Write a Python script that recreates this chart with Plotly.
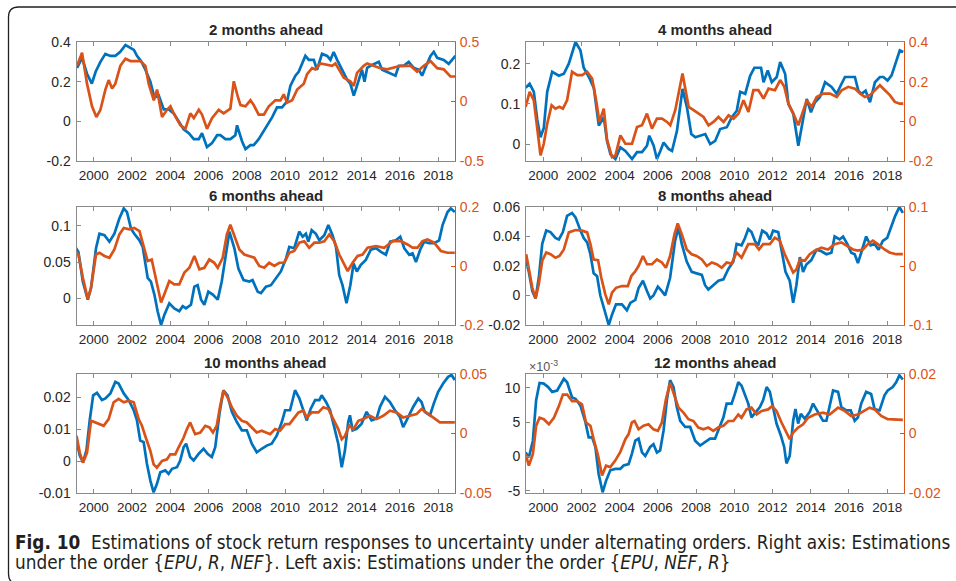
import plotly.graph_objects as go

BLUE = "#0072BD"
ORANGE = "#D95319"
AXIS_GRAY = "#8a8a8a"
TEXT = "#262626"

YEARS = [2000, 2002, 2004, 2006, 2008, 2010, 2012, 2014, 2016, 2018]
X_RANGE = [1999.1, 2018.88]

# (year, value); left axis = order {EPU, NEF, R}, right axis = order {EPU, R, NEF}
LEFT_2M = [
    (1999.13, 0.27), (1999.39, 0.32), (1999.65, 0.24), (1999.90, 0.19), (2000.10, 0.25), (2000.35, 0.30),
    (2000.61, 0.34), (2000.87, 0.33), (2001.13, 0.33), (2001.39, 0.35), (2001.66, 0.385), (2001.92, 0.37),
    (2002.10, 0.36), (2002.26, 0.33), (2002.50, 0.30), (2002.70, 0.26), (2002.96, 0.20), (2003.17, 0.12),
    (2003.40, 0.13), (2003.66, 0.06), (2003.92, 0.06), (2004.18, 0.04), (2004.44, 0.00), (2004.70, -0.04),
    (2004.97, -0.06), (2005.23, -0.09), (2005.49, -0.09), (2005.66, -0.06), (2005.92, -0.13), (2006.18, -0.11),
    (2006.45, -0.07), (2006.62, -0.07), (2006.88, -0.09), (2007.14, -0.09), (2007.40, -0.07), (2007.49, -0.02),
    (2007.75, -0.10), (2007.93, -0.14), (2008.19, -0.12), (2008.36, -0.12), (2008.62, -0.09), (2008.89, -0.05),
    (2009.06, -0.02), (2009.32, 0.02), (2009.58, 0.07), (2009.84, 0.07), (2010.10, 0.10), (2010.28, 0.18),
    (2010.54, 0.23), (2010.71, 0.25), (2011.06, 0.33), (2011.24, 0.31), (2011.50, 0.31), (2011.67, 0.26),
    (2011.93, 0.34), (2012.20, 0.33), (2012.37, 0.31), (2012.54, 0.35), (2012.72, 0.31), (2012.98, 0.26),
    (2013.24, 0.21), (2013.41, 0.19), (2013.59, 0.13), (2013.76, 0.18), (2013.94, 0.24), (2014.02, 0.26),
    (2014.15, 0.20), (2014.29, 0.27), (2014.46, 0.28), (2014.72, 0.29), (2014.90, 0.30), (2015.07, 0.26),
    (2015.33, 0.25), (2015.59, 0.24), (2015.77, 0.23), (2015.94, 0.28), (2016.20, 0.28), (2016.46, 0.30),
    (2016.72, 0.27), (2016.99, 0.26), (2017.16, 0.23), (2017.33, 0.27), (2017.60, 0.33), (2017.77, 0.35),
    (2017.95, 0.32), (2018.29, 0.31), (2018.55, 0.29), (2018.90, 0.33),
]
RIGHT_2M = [
    (1999.13, 0.30), (1999.39, 0.41), (1999.65, 0.15), (1999.91, -0.04), (2000.14, -0.13), (2000.35, -0.07),
    (2000.61, 0.10), (2000.78, 0.18), (2000.96, 0.11), (2001.13, 0.15), (2001.39, 0.30), (2001.66, 0.36),
    (2001.92, 0.34), (2002.44, 0.34), (2002.70, 0.30), (2002.87, 0.15), (2003.14, 0.01), (2003.31, 0.10),
    (2003.57, -0.13), (2003.83, -0.07), (2004.01, -0.04), (2004.18, -0.10), (2004.53, -0.20), (2004.79, -0.23),
    (2005.05, -0.10), (2005.23, -0.14), (2005.49, -0.07), (2005.66, -0.11), (2005.92, -0.23), (2006.18, -0.14),
    (2006.53, -0.07), (2006.79, -0.10), (2007.14, -0.06), (2007.32, 0.17), (2007.53, 0.04), (2007.67, -0.03),
    (2007.93, -0.04), (2008.19, 0.01), (2008.36, -0.03), (2008.62, -0.11), (2008.89, -0.11), (2009.15, -0.04),
    (2009.49, 0.01), (2009.76, 0.01), (2009.93, 0.06), (2010.10, -0.01), (2010.37, 0.01), (2010.63, 0.10),
    (2010.98, 0.15), (2011.15, 0.23), (2011.41, 0.28), (2011.59, 0.27), (2011.85, 0.32), (2012.20, 0.31),
    (2012.46, 0.30), (2012.63, 0.32), (2012.89, 0.25), (2013.07, 0.20), (2013.41, 0.17), (2013.59, 0.13),
    (2013.76, 0.24), (2014.11, 0.30), (2014.29, 0.32), (2014.63, 0.30), (2014.98, 0.28), (2015.33, 0.27),
    (2015.59, 0.28), (2016.03, 0.30), (2016.55, 0.30), (2016.90, 0.25), (2017.25, 0.30), (2017.60, 0.34),
    (2017.95, 0.28), (2018.29, 0.27), (2018.64, 0.21), (2018.90, 0.21),
]

LEFT_4M = [
    (1999.08, 0.14), (1999.29, 0.15), (1999.51, 0.13), (1999.69, 0.06), (1999.86, 0.017), (2000.03, 0.04),
    (2000.21, 0.13), (2000.47, 0.18), (2000.82, 0.17), (2001.08, 0.175), (2001.34, 0.20), (2001.51, 0.225),
    (2001.69, 0.254), (2001.95, 0.233), (2002.12, 0.19), (2002.39, 0.167), (2002.65, 0.14), (2002.91, 0.046),
    (2003.17, 0.067), (2003.34, 0.008), (2003.52, -0.025), (2003.78, -0.037), (2004.04, -0.008), (2004.30, -0.017),
    (2004.65, -0.037), (2004.91, -0.02), (2005.17, -0.02), (2005.43, -0.004), (2005.55, 0.021), (2005.78, -0.004),
    (2005.95, -0.037), (2006.13, -0.017), (2006.30, 0.004), (2006.56, -0.012), (2006.74, -0.017), (2007.00, 0.033),
    (2007.29, 0.1375), (2007.52, 0.092), (2007.75, 0.025), (2007.96, 0.017), (2008.22, 0.021), (2008.48, 0.025),
    (2008.74, 0.0), (2009.00, 0.008), (2009.26, 0.0375), (2009.61, 0.042), (2009.87, 0.067), (2010.13, 0.083),
    (2010.31, 0.13), (2010.57, 0.125), (2010.83, 0.17), (2011.05, 0.19), (2011.26, 0.19), (2011.40, 0.19),
    (2011.53, 0.154), (2011.75, 0.183), (2011.96, 0.154), (2012.22, 0.167), (2012.40, 0.204), (2012.66, 0.175),
    (2012.83, 0.10), (2013.09, 0.075), (2013.35, -0.004), (2013.61, 0.067), (2013.79, 0.1125), (2014.01, 0.079),
    (2014.22, 0.104), (2014.48, 0.117), (2014.75, 0.154), (2015.09, 0.142), (2015.36, 0.125), (2015.53, 0.142),
    (2015.79, 0.167), (2016.05, 0.167), (2016.31, 0.167), (2016.49, 0.133), (2016.66, 0.125), (2016.87, 0.133),
    (2017.10, 0.104), (2017.36, 0.154), (2017.62, 0.167), (2017.80, 0.167), (2018.02, 0.158), (2018.23, 0.171),
    (2018.40, 0.196), (2018.66, 0.233), (2018.84, 0.229),
]
RIGHT_4M = [
    (1999.08, 0.073), (1999.29, 0.149), (1999.51, 0.106), (1999.69, -0.029), (1999.86, -0.172), (2000.03, -0.113),
    (2000.21, -0.012), (2000.44, 0.081), (2000.64, 0.064), (2000.85, 0.073), (2001.03, 0.064), (2001.25, 0.106),
    (2001.51, 0.25), (2001.78, 0.233), (2002.04, 0.233), (2002.30, 0.25), (2002.56, 0.216), (2002.77, 0.106),
    (2002.94, -0.003), (2003.17, 0.064), (2003.34, -0.093), (2003.60, -0.18), (2003.78, -0.172), (2004.04, -0.071),
    (2004.30, -0.113), (2004.65, -0.113), (2004.91, -0.029), (2005.17, -0.02), (2005.43, 0.039), (2005.69, -0.037),
    (2005.95, 0.0135), (2006.22, 0.0135), (2006.48, -0.003), (2006.65, -0.02), (2006.91, 0.056), (2007.29, 0.241),
    (2007.61, 0.073), (2007.87, 0.056), (2008.13, 0.039), (2008.39, 0.022), (2008.65, -0.02), (2008.91, -0.003),
    (2009.17, 0.022), (2009.44, -0.003), (2009.70, 0.030), (2009.96, 0.0135), (2010.22, 0.039), (2010.48, 0.106),
    (2010.74, 0.047), (2011.00, 0.157), (2011.26, 0.157), (2011.53, 0.115), (2011.79, 0.165), (2012.13, 0.157),
    (2012.40, 0.208), (2012.62, 0.174), (2012.83, 0.089), (2013.09, 0.039), (2013.35, -0.02), (2013.61, 0.056),
    (2013.79, 0.106), (2014.05, 0.073), (2014.31, 0.123), (2014.66, 0.14), (2015.01, 0.14), (2015.36, 0.123),
    (2015.62, 0.157), (2015.96, 0.174), (2016.31, 0.165), (2016.57, 0.14), (2016.83, 0.123), (2017.10, 0.132),
    (2017.36, 0.157), (2017.62, 0.182), (2017.88, 0.157), (2018.14, 0.132), (2018.40, 0.098), (2018.66, 0.089),
    (2018.84, 0.089),
]

LEFT_6M = [
    (1999.03, 0.071), (1999.20, 0.064), (1999.43, 0.023), (1999.69, -0.002), (1999.86, 0.014), (2000.12, 0.069),
    (2000.30, 0.089), (2000.56, 0.087), (2000.82, 0.078), (2001.08, 0.089), (2001.34, 0.110), (2001.57, 0.124),
    (2001.74, 0.119), (2001.95, 0.096), (2002.12, 0.089), (2002.39, 0.080), (2002.56, 0.071), (2002.82, 0.028),
    (2002.99, 0.023), (2003.17, 0.005), (2003.34, -0.018), (2003.52, -0.037), (2003.69, -0.023), (2003.95, -0.007),
    (2004.21, -0.014), (2004.47, -0.018), (2004.65, -0.011), (2004.82, -0.014), (2005.08, -0.009), (2005.26, 0.016),
    (2005.43, 0.018), (2005.61, -0.002), (2005.78, -0.009), (2005.99, 0.009), (2006.22, 0.005), (2006.48, -0.002),
    (2006.69, 0.023), (2006.91, 0.064), (2007.09, 0.092), (2007.35, 0.069), (2007.56, 0.041), (2007.83, 0.025),
    (2008.13, 0.023), (2008.30, 0.025), (2008.57, 0.009), (2008.74, 0.007), (2009.00, 0.016), (2009.26, 0.018),
    (2009.52, 0.028), (2009.78, 0.037), (2010.05, 0.055), (2010.22, 0.071), (2010.48, 0.069), (2010.74, 0.092),
    (2010.92, 0.085), (2011.09, 0.089), (2011.21, 0.078), (2011.39, 0.094), (2011.61, 0.089), (2011.79, 0.080),
    (2012.05, 0.087), (2012.26, 0.101), (2012.48, 0.087), (2012.66, 0.071), (2012.83, 0.032), (2013.00, 0.018),
    (2013.21, -0.007), (2013.41, 0.018), (2013.58, 0.048), (2013.75, 0.037), (2013.96, 0.046), (2014.22, 0.053),
    (2014.48, 0.067), (2014.75, 0.069), (2015.01, 0.064), (2015.27, 0.060), (2015.49, 0.078), (2015.79, 0.080),
    (2016.02, 0.085), (2016.23, 0.069), (2016.49, 0.060), (2016.66, 0.062), (2016.84, 0.050), (2017.06, 0.067),
    (2017.27, 0.078), (2017.53, 0.076), (2017.79, 0.076), (2018.05, 0.080), (2018.23, 0.101), (2018.49, 0.119),
    (2018.66, 0.124), (2018.87, 0.119),
]
RIGHT_6M = [
    (1999.03, 0.051), (1999.20, 0.039), (1999.43, -0.039), (1999.69, -0.112), (1999.86, -0.073), (2000.12, 0.039),
    (2000.30, 0.045), (2000.56, 0.034), (2000.82, 0.028), (2001.08, 0.056), (2001.34, 0.107), (2001.57, 0.129),
    (2001.86, 0.124), (2002.12, 0.129), (2002.39, 0.118), (2002.65, 0.051), (2002.82, 0.017), (2003.03, 0.022),
    (2003.20, -0.028), (2003.34, -0.073), (2003.52, -0.124), (2003.69, -0.096), (2003.95, -0.051), (2004.21, -0.062),
    (2004.47, -0.062), (2004.74, -0.022), (2005.00, -0.006), (2005.26, 0.034), (2005.52, -0.011), (2005.78, -0.006),
    (2006.04, 0.022), (2006.30, 0.011), (2006.48, -0.006), (2006.74, 0.028), (2006.96, 0.107), (2007.14, 0.140),
    (2007.35, 0.101), (2007.61, 0.056), (2007.87, 0.039), (2008.13, 0.034), (2008.39, 0.028), (2008.65, 0.0),
    (2008.91, -0.006), (2009.17, 0.011), (2009.44, 0.0), (2009.70, 0.011), (2009.96, 0.011), (2010.22, 0.045),
    (2010.48, 0.051), (2010.74, 0.079), (2011.00, 0.084), (2011.26, 0.062), (2011.53, 0.079), (2011.79, 0.079),
    (2012.05, 0.084), (2012.31, 0.107), (2012.57, 0.084), (2012.83, 0.039), (2013.09, 0.006), (2013.27, -0.017),
    (2013.53, 0.011), (2013.79, 0.034), (2014.05, 0.039), (2014.31, 0.062), (2014.75, 0.067), (2015.18, 0.062),
    (2015.62, 0.084), (2016.05, 0.084), (2016.40, 0.073), (2016.66, 0.062), (2016.92, 0.062), (2017.18, 0.084),
    (2017.44, 0.090), (2017.79, 0.079), (2018.14, 0.051), (2018.49, 0.045), (2018.87, 0.045),
]

LEFT_8M = [
    (1999.11, 0.023), (1999.25, 0.016), (1999.43, 0.003), (1999.60, -0.002), (1999.77, 0.012), (1999.95, 0.035),
    (2000.16, 0.044), (2000.38, 0.043), (2000.64, 0.039), (2000.82, 0.038), (2001.03, 0.043), (2001.25, 0.054),
    (2001.51, 0.056), (2001.69, 0.053), (2001.95, 0.044), (2002.12, 0.039), (2002.30, 0.036), (2002.47, 0.028),
    (2002.64, 0.015), (2002.82, 0.013), (2002.99, 0.0), (2003.25, -0.013), (2003.43, -0.020), (2003.60, -0.013),
    (2003.81, -0.006), (2004.12, -0.006), (2004.38, -0.010), (2004.56, -0.005), (2004.82, -0.003), (2004.99, 0.005),
    (2005.22, 0.010), (2005.43, 0.003), (2005.60, -0.002), (2005.77, 0.0), (2006.00, 0.006), (2006.21, 0.003),
    (2006.38, 0.0), (2006.64, 0.012), (2006.90, 0.037), (2007.08, 0.046), (2007.25, 0.035), (2007.51, 0.023),
    (2007.77, 0.016), (2008.03, 0.015), (2008.30, 0.014), (2008.47, 0.007), (2008.64, 0.004), (2008.90, 0.007),
    (2009.17, 0.010), (2009.43, 0.011), (2009.69, 0.018), (2009.95, 0.023), (2010.12, 0.035), (2010.38, 0.034),
    (2010.56, 0.039), (2010.73, 0.045), (2010.90, 0.043), (2011.08, 0.037), (2011.25, 0.034), (2011.46, 0.044),
    (2011.69, 0.042), (2011.86, 0.038), (2012.03, 0.044), (2012.30, 0.043), (2012.50, 0.030), (2012.68, 0.016),
    (2012.90, 0.010), (2013.08, -0.005), (2013.25, 0.007), (2013.43, 0.026), (2013.60, 0.016), (2013.77, 0.021),
    (2014.03, 0.024), (2014.30, 0.031), (2014.56, 0.030), (2014.82, 0.028), (2015.08, 0.029), (2015.25, 0.040),
    (2015.51, 0.038), (2015.69, 0.040), (2015.91, 0.035), (2016.12, 0.029), (2016.30, 0.028), (2016.47, 0.022),
    (2016.64, 0.029), (2016.90, 0.040), (2017.13, 0.034), (2017.34, 0.035), (2017.55, 0.031), (2017.77, 0.037),
    (2018.00, 0.039), (2018.21, 0.047), (2018.42, 0.054), (2018.64, 0.060), (2018.82, 0.056),
]
RIGHT_8M = [
    (1999.11, 0.020), (1999.25, -0.003), (1999.43, -0.037), (1999.60, -0.055), (1999.77, -0.031), (1999.95, 0.009),
    (2000.16, 0.023), (2000.38, 0.020), (2000.64, 0.014), (2000.85, 0.017), (2001.08, 0.028), (2001.34, 0.057),
    (2001.69, 0.061), (2002.03, 0.060), (2002.30, 0.057), (2002.47, 0.037), (2002.64, 0.011), (2002.87, 0.010),
    (2003.04, -0.020), (2003.25, -0.048), (2003.43, -0.065), (2003.60, -0.045), (2003.81, -0.037), (2004.12, -0.034),
    (2004.43, -0.034), (2004.61, -0.017), (2004.82, -0.009), (2004.99, 0.0), (2005.22, 0.017), (2005.43, 0.003),
    (2005.69, 0.003), (2005.95, 0.011), (2006.21, 0.006), (2006.42, -0.003), (2006.64, 0.017), (2006.87, 0.054),
    (2007.04, 0.072), (2007.25, 0.054), (2007.51, 0.028), (2007.77, 0.020), (2008.03, 0.017), (2008.30, 0.011),
    (2008.56, 0.0), (2008.82, 0.006), (2009.08, 0.003), (2009.34, -0.003), (2009.60, 0.006), (2009.86, 0.004),
    (2010.12, 0.023), (2010.38, 0.014), (2010.73, 0.037), (2011.08, 0.037), (2011.29, 0.028), (2011.51, 0.037),
    (2011.86, 0.037), (2012.12, 0.048), (2012.38, 0.043), (2012.64, 0.020), (2012.90, 0.003), (2013.08, -0.011),
    (2013.25, -0.006), (2013.43, 0.011), (2013.69, 0.009), (2013.95, 0.020), (2014.21, 0.026), (2014.56, 0.031),
    (2014.90, 0.028), (2015.25, 0.037), (2015.60, 0.040), (2015.91, 0.034), (2016.21, 0.028), (2016.47, 0.026),
    (2016.73, 0.028), (2016.99, 0.037), (2017.25, 0.043), (2017.51, 0.037), (2017.86, 0.028), (2018.12, 0.023),
    (2018.47, 0.020), (2018.82, 0.020),
]

LEFT_10M = [
    (1999.10, 0.0065), (1999.27, 0.0018), (1999.44, -0.0003), (1999.62, 0.0034), (1999.79, 0.0128), (1999.97, 0.0207),
    (2000.17, 0.0215), (2000.43, 0.0192), (2000.61, 0.0197), (2000.87, 0.0213), (2001.13, 0.0249), (2001.30, 0.0244),
    (2001.57, 0.0213), (2001.83, 0.0192), (2002.09, 0.0160), (2002.26, 0.0128), (2002.43, 0.0065), (2002.61, 0.0060),
    (2002.78, -0.0008), (2002.96, -0.0061), (2003.13, -0.0098), (2003.30, -0.0072), (2003.48, -0.0035), (2003.74, -0.0029),
    (2003.91, -0.0040), (2004.09, -0.0024), (2004.35, -0.0019), (2004.52, 0.0002), (2004.70, 0.0044), (2004.83, 0.0055),
    (2005.04, 0.0013), (2005.22, 0.0002), (2005.48, 0.0023), (2005.74, 0.0039), (2005.95, 0.0023), (2006.17, 0.0013),
    (2006.35, 0.0044), (2006.57, 0.0149), (2006.78, 0.0223), (2006.99, 0.0207), (2007.22, 0.0155), (2007.48, 0.0123),
    (2007.74, 0.0097), (2008.00, 0.0097), (2008.26, 0.0055), (2008.52, 0.0028), (2008.78, 0.0039), (2009.04, 0.0049),
    (2009.30, 0.0055), (2009.57, 0.0081), (2009.83, 0.0123), (2010.00, 0.0160), (2010.26, 0.0160), (2010.52, 0.0223),
    (2010.75, 0.0197), (2010.96, 0.0155), (2011.13, 0.0128), (2011.34, 0.0165), (2011.57, 0.0192), (2011.79, 0.0192),
    (2011.91, 0.0207), (2012.14, 0.0186), (2012.35, 0.0160), (2012.61, 0.0097), (2012.78, 0.0055), (2012.96, -0.0019),
    (2013.13, 0.0034), (2013.30, 0.0123), (2013.39, 0.0144), (2013.53, 0.0097), (2013.74, 0.0102), (2014.00, 0.0118),
    (2014.26, 0.0155), (2014.52, 0.0128), (2014.78, 0.0134), (2014.96, 0.0171), (2015.22, 0.0202), (2015.48, 0.0186),
    (2015.74, 0.0160), (2016.00, 0.0139), (2016.17, 0.0107), (2016.35, 0.0128), (2016.52, 0.0149), (2016.70, 0.0171),
    (2016.96, 0.0197), (2017.13, 0.0186), (2017.30, 0.0155), (2017.57, 0.0144), (2017.77, 0.0181), (2018.00, 0.0218),
    (2018.26, 0.0244), (2018.52, 0.0265), (2018.70, 0.0271), (2018.87, 0.0255),
]
RIGHT_10M = [
    (1999.10, -0.0020), (1999.27, -0.0160), (1999.44, -0.0245), (1999.65, -0.0160), (1999.86, 0.0107), (2000.09, 0.0093),
    (2000.35, 0.0079), (2000.52, 0.0065), (2000.78, 0.0121), (2001.04, 0.0262), (2001.30, 0.0290), (2001.57, 0.0262),
    (2001.83, 0.0276), (2002.09, 0.0262), (2002.35, 0.0121), (2002.52, 0.0065), (2002.75, -0.0048), (2002.96, -0.0146),
    (2003.13, -0.0259), (2003.30, -0.0287), (2003.57, -0.0231), (2003.83, -0.0217), (2004.00, -0.0175), (2004.26, -0.0175),
    (2004.43, -0.0118), (2004.70, -0.0034), (2004.87, 0.0037), (2005.04, 0.0093), (2005.30, -0.0006), (2005.57, 0.0008),
    (2005.83, 0.0065), (2006.05, 0.0051), (2006.23, 0.0008), (2006.43, 0.0065), (2006.61, 0.0234), (2006.78, 0.0360),
    (2006.99, 0.0304), (2007.22, 0.0220), (2007.48, 0.0149), (2007.74, 0.0107), (2008.00, 0.0093), (2008.26, 0.0051),
    (2008.52, 0.0008), (2008.78, 0.0023), (2009.04, 0.0008), (2009.22, -0.0006), (2009.48, 0.0037), (2009.74, 0.0023),
    (2010.00, 0.0079), (2010.23, 0.0079), (2010.43, 0.0121), (2010.70, 0.0177), (2010.96, 0.0192), (2011.13, 0.0135),
    (2011.39, 0.0177), (2011.74, 0.0177), (2012.00, 0.0220), (2012.26, 0.0206), (2012.52, 0.0121), (2012.78, 0.0037),
    (2012.96, -0.0048), (2013.13, -0.0020), (2013.36, 0.0065), (2013.57, 0.0037), (2013.83, 0.0107), (2014.09, 0.0121),
    (2014.43, 0.0149), (2014.78, 0.0121), (2015.13, 0.0149), (2015.48, 0.0192), (2015.83, 0.0177), (2016.17, 0.0135),
    (2016.52, 0.0149), (2016.87, 0.0163), (2017.13, 0.0206), (2017.48, 0.0163), (2017.83, 0.0121), (2018.09, 0.0093),
    (2018.43, 0.0093), (2018.87, 0.0093),
]

# left axis of the 12-month panel is in units of 1e-3, as printed on the axis
LEFT_12M = [
    (1999.08, 0.6), (1999.25, -0.1), (1999.46, 2.3), (1999.63, 8.2), (1999.81, 10.7), (2000.03, 10.6),
    (2000.26, 10.1), (2000.47, 9.4), (2000.73, 9.6), (2000.96, 10.6), (2001.08, 11.3), (2001.25, 10.8),
    (2001.51, 8.6), (2001.69, 8.4), (2001.95, 7.4), (2002.21, 5.0), (2002.38, 2.8), (2002.56, 2.8),
    (2002.73, 1.4), (2002.90, -2.5), (2003.11, -5.2), (2003.29, -3.5), (2003.51, -2.0), (2003.77, -1.8),
    (2004.03, -1.8), (2004.21, -1.3), (2004.47, -1.1), (2004.64, 0.4), (2004.82, 2.3), (2004.99, 2.6),
    (2005.17, 0.6), (2005.34, 0.1), (2005.60, 1.4), (2005.77, 1.8), (2005.95, 0.6), (2006.12, 0.9),
    (2006.30, 3.8), (2006.47, 8.2), (2006.64, 11.1), (2006.82, 10.1), (2006.99, 7.2), (2007.17, 5.2),
    (2007.43, 4.3), (2007.69, 4.3), (2007.95, 2.3), (2008.21, 1.6), (2008.47, 2.1), (2008.73, 2.6),
    (2008.99, 2.6), (2009.25, 4.3), (2009.43, 5.7), (2009.60, 7.7), (2009.86, 7.7), (2010.03, 9.1),
    (2010.21, 10.8), (2010.38, 10.3), (2010.56, 8.9), (2010.73, 7.7), (2010.90, 5.7), (2011.11, 6.5),
    (2011.34, 7.2), (2011.51, 8.2), (2011.69, 10.1), (2011.86, 9.4), (2012.03, 7.2), (2012.21, 4.8),
    (2012.43, 3.1), (2012.61, 1.4), (2012.73, -1.0), (2012.90, 0.1), (2013.08, 5.2), (2013.20, 6.9),
    (2013.34, 4.8), (2013.48, 6.2), (2013.69, 5.5), (2013.95, 6.5), (2014.12, 7.7), (2014.38, 6.5),
    (2014.64, 5.2), (2014.82, 5.2), (2014.99, 7.4), (2015.17, 9.6), (2015.43, 9.4), (2015.60, 7.2),
    (2015.86, 6.7), (2016.09, 6.7), (2016.30, 5.2), (2016.47, 5.7), (2016.64, 7.7), (2016.90, 9.4),
    (2017.16, 9.1), (2017.34, 6.9), (2017.60, 6.7), (2017.86, 8.9), (2018.03, 9.6), (2018.29, 10.1),
    (2018.47, 10.8), (2018.64, 11.8), (2018.82, 11.2),
]
RIGHT_12M = [
    (1999.08, -0.0069), (1999.25, -0.0108), (1999.46, -0.0069), (1999.63, 0.0026), (1999.81, 0.0053), (2000.03, 0.0048),
    (2000.30, 0.0031), (2000.56, 0.0053), (2000.82, 0.0092), (2001.03, 0.0131), (2001.25, 0.0131), (2001.51, 0.0109),
    (2001.77, 0.0109), (2002.03, 0.0098), (2002.24, 0.0037), (2002.47, 0.0026), (2002.64, -0.0019), (2002.87, -0.0074),
    (2003.08, -0.0141), (2003.29, -0.0108), (2003.51, -0.0113), (2003.77, -0.0091), (2004.03, -0.0063), (2004.30, -0.0019),
    (2004.47, -0.0002), (2004.64, 0.0037), (2004.78, 0.0042), (2004.99, 0.0014), (2005.25, 0.0026), (2005.51, 0.0031),
    (2005.77, 0.0014), (2006.00, 0.0009), (2006.21, 0.0037), (2006.42, 0.0114), (2006.64, 0.0170), (2006.87, 0.0126),
    (2007.08, 0.0087), (2007.34, 0.0070), (2007.60, 0.0048), (2007.86, 0.0042), (2008.12, 0.0020), (2008.38, 0.0014),
    (2008.64, 0.0020), (2008.90, 0.0009), (2009.16, 0.0020), (2009.43, 0.0026), (2009.69, 0.0042), (2009.95, 0.0042),
    (2010.21, 0.0064), (2010.38, 0.0053), (2010.64, 0.0081), (2010.90, 0.0087), (2011.17, 0.0064), (2011.43, 0.0076),
    (2011.77, 0.0081), (2011.98, 0.0092), (2012.21, 0.0076), (2012.47, 0.0037), (2012.73, 0.0003), (2012.90, -0.0019),
    (2013.08, 0.0003), (2013.34, 0.0020), (2013.60, 0.0031), (2013.86, 0.0053), (2014.21, 0.0064), (2014.64, 0.0070),
    (2014.99, 0.0064), (2015.43, 0.0087), (2015.77, 0.0076), (2016.12, 0.0059), (2016.47, 0.0064), (2016.82, 0.0076),
    (2017.08, 0.0087), (2017.34, 0.0081), (2017.69, 0.0059), (2018.03, 0.0048), (2018.38, 0.0048), (2018.82, 0.0046),
]

TITLES = ["2 months ahead", "4 months ahead", "6 months ahead", "8 months ahead", "10 months ahead", "12 months ahead"]
LEFT_SERIES = [LEFT_2M, LEFT_4M, LEFT_6M, LEFT_8M, LEFT_10M, LEFT_12M]
RIGHT_SERIES = [RIGHT_2M, RIGHT_4M, RIGHT_6M, RIGHT_8M, RIGHT_10M, RIGHT_12M]

LEFT_RANGES = [[-0.2, 0.4], [-0.042, 0.254], [-0.037, 0.126], [-0.02, 0.06], [-0.01, 0.0274], [-5.3, 12.0]]
LEFT_TICKS = [
    [-0.2, 0, 0.2, 0.4], [0, 0.1, 0.2], [0, 0.05, 0.1], [-0.02, 0, 0.02, 0.04, 0.06],
    [-0.01, 0, 0.01, 0.02], [-5, 0, 5, 10],
]
LEFT_LABELS = [
    ["-0.2", "0", "0.2", "0.4"], ["0", "0.1", "0.2"], ["0", "0.05", "0.1"],
    ["-0.02", "0", "0.02", "0.04", "0.06"], ["-0.01", "0", "0.01", "0.02"], ["-5", "0", "5", "10"],
]
RIGHT_RANGES = [[-0.5, 0.5], [-0.2, 0.4], [-0.2, 0.2], [-0.1, 0.1], [-0.05, 0.05], [-0.02, 0.02]]
RIGHT_TICKS = [[-0.5, 0, 0.5], [-0.2, 0, 0.2, 0.4], [-0.2, 0, 0.2], [-0.1, 0, 0.1], [-0.05, 0, 0.05], [-0.02, 0, 0.02]]
RIGHT_LABELS = [
    ["-0.5", "0", "0.5"], ["-0.2", "0", "0.2", "0.4"], ["-0.2", "0", "0.2"],
    ["-0.1", "0", "0.1"], ["-0.05", "0", "0.05"], ["-0.02", "0", "0.02"],
]

W, H = 956, 581
COLS = [(76.5, 455), (526, 904)]
ROWS = [(42, 161), (207, 325), (374, 493)]
TITLE_Y = [30, 195, 362]
AX_FONT = "Liberation Sans, Arial, sans-serif"


def fx(p):
    return p / W


def fy(p):
    return 1 - p / H


fig = go.Figure()
layout = {}
annotations = []

for k in range(6):
    row, col = divmod(k, 2)
    n = k + 1
    xname = "x" if n == 1 else f"x{n}"
    yl = 2 * n - 1
    yr = 2 * n
    yl_name = "y" if yl == 1 else f"y{yl}"
    yr_name = f"y{yr}"
    x0, x1 = COLS[col]
    top, bottom = ROWS[row]

    lx, ly = zip(*LEFT_SERIES[k])
    rx, ry = zip(*RIGHT_SERIES[k])
    fig.add_trace(go.Scatter(x=lx, y=ly, mode="lines", xaxis=xname, yaxis=yl_name,
                             line={"color": BLUE, "width": 2.7}, showlegend=False))
    fig.add_trace(go.Scatter(x=rx, y=ry, mode="lines", xaxis=xname, yaxis=yr_name,
                             line={"color": ORANGE, "width": 2.7}, showlegend=False))

    xkey = "xaxis" if n == 1 else f"xaxis{n}"
    layout[xkey] = {
        "domain": [fx(x0), fx(x1)], "anchor": yl_name, "range": X_RANGE,
        "tickvals": YEARS, "ticktext": [str(v) for v in YEARS],
        "ticks": "inside", "ticklen": 4, "tickcolor": AXIS_GRAY, "ticklabelstandoff": 2,
        "showline": True, "linecolor": AXIS_GRAY, "linewidth": 1, "mirror": "ticks",
        "showgrid": False, "zeroline": False,
        "tickfont": {"size": 13.5, "color": TEXT, "family": AX_FONT},
    }
    ylkey = "yaxis" if yl == 1 else f"yaxis{yl}"
    layout[ylkey] = {
        "domain": [fy(bottom), fy(top)], "anchor": xname, "range": LEFT_RANGES[k],
        "tickvals": LEFT_TICKS[k], "ticktext": LEFT_LABELS[k],
        "ticks": "inside", "ticklen": 4, "tickcolor": AXIS_GRAY, "ticklabelstandoff": 2,
        "showline": True, "linecolor": AXIS_GRAY, "linewidth": 1,
        "showgrid": False, "zeroline": False,
        "tickfont": {"size": 14, "color": TEXT, "family": AX_FONT},
    }
    layout[f"yaxis{yr}"] = {
        "domain": [fy(bottom), fy(top)], "anchor": xname, "overlaying": yl_name, "side": "right",
        "range": RIGHT_RANGES[k], "tickvals": RIGHT_TICKS[k], "ticktext": RIGHT_LABELS[k],
        "ticks": "inside", "ticklen": 4, "tickcolor": ORANGE, "ticklabelstandoff": 1,
        "showline": True, "linecolor": ORANGE, "linewidth": 1,
        "showgrid": False, "zeroline": False,
        "tickfont": {"size": 14, "color": ORANGE, "family": AX_FONT},
    }
    annotations.append({
        "text": f"<b>{TITLES[k]}</b>", "xref": "paper", "yref": "paper",
        "x": fx((x0 + x1) / 2), "y": fy(TITLE_Y[row]), "xanchor": "center", "yanchor": "middle",
        "showarrow": False, "font": {"size": 15, "color": TEXT, "family": AX_FONT},
    })

annotations.append({
    "text": "×10<sup>-3</sup>", "xref": "paper", "yref": "paper", "x": fx(527), "y": fy(366),
    "xanchor": "left", "yanchor": "middle", "showarrow": False,
    "font": {"size": 12.5, "color": "#555555", "family": AX_FONT},
})

CAPTION_FONT = "DejaVu Sans Condensed, sans-serif"
annotations.append({
    "text": "<b>Fig. 10</b>  Estimations of stock return responses to uncertainty under alternating orders. "
            "Right axis: Estimations",
    "xref": "paper", "yref": "paper", "x": fx(13), "y": fy(542), "xanchor": "left", "yanchor": "middle",
    "showarrow": False, "font": {"size": 18.8, "color": "#231f20", "family": CAPTION_FONT},
})
annotations.append({
    "text": "under the order {<i>EPU</i>, <i>R</i>, <i>NEF</i>}. Left axis: Estimations under the order "
            "{<i>EPU</i>, <i>NEF</i>, <i>R</i>}",
    "xref": "paper", "yref": "paper", "x": fx(13), "y": fy(562), "xanchor": "left", "yanchor": "middle",
    "showarrow": False, "font": {"size": 18.8, "color": "#231f20", "family": CAPTION_FONT},
})

# rounded frame around the figure (open on the right, bottom corner just below the edge)
r = 10
bx, by, bb = 8.5, 7, 584
frame = (f"M {fx(bx + r)},{fy(bb)} Q {fx(bx)},{fy(bb)} {fx(bx)},{fy(bb - r)} "
         f"L {fx(bx)},{fy(by + r)} "
         f"Q {fx(bx)},{fy(by)} {fx(bx + r)},{fy(by)} L {fx(W + 5)},{fy(by)}")

fig.update_layout(
    width=W, height=H,
    margin={"l": 0, "r": 0, "t": 0, "b": 0, "autoexpand": False},
    paper_bgcolor="#ffffff", plot_bgcolor="rgba(0,0,0,0)",
    font={"family": AX_FONT, "color": TEXT},
    annotations=annotations,
    shapes=[{"type": "path", "xref": "paper", "yref": "paper", "path": frame,
             "line": {"color": "#231f20", "width": 1.3}}],
    **layout,
)

# the page's default body margin would shift the figure by 8px
fig.write_html("out.html", config={"displayModeBar": False},
               post_script="document.body.style.margin='0';")
